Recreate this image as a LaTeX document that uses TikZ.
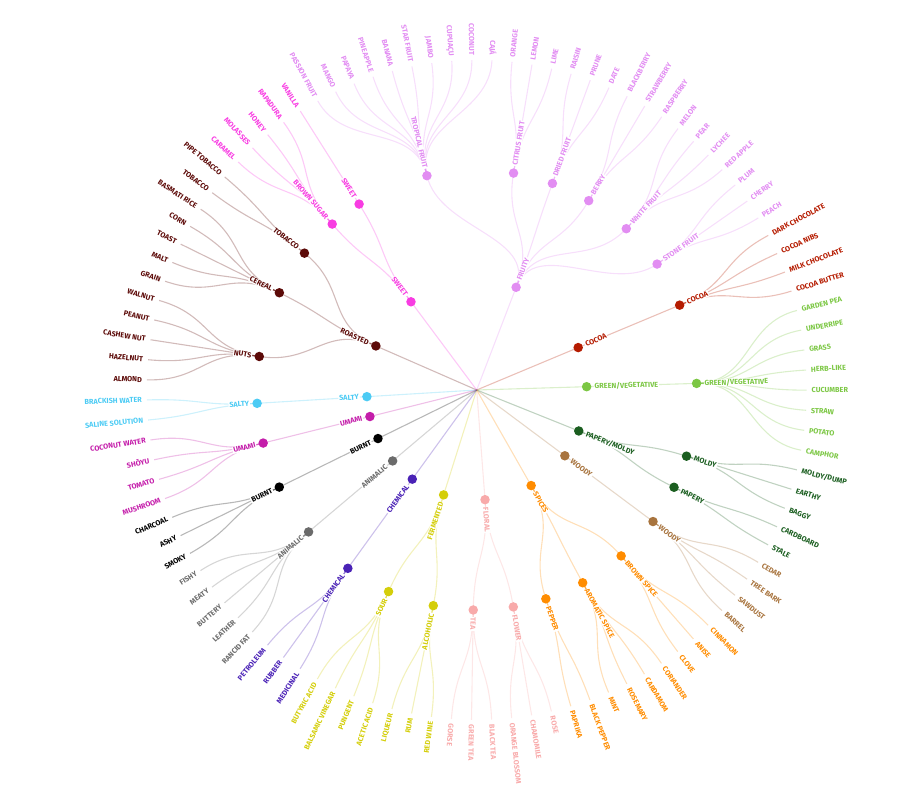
\documentclass[tikz,border=0pt]{standalone}
\usepackage{fontspec}
\setmainfont{Fira Sans}

% ── Palette ──────────────────────────────────────────────────────────────────
\definecolor{fruity}{HTML}{E28DF2}
\definecolor{sweet}{HTML}{F83CE2}
\definecolor{roasted}{HTML}{5C0A08}
\definecolor{salty}{HTML}{4CCBF4}
\definecolor{umami}{HTML}{C41DAA}
\definecolor{burnt}{HTML}{000000}
\definecolor{animalic}{HTML}{6B6B6B}
\definecolor{chemical}{HTML}{4A22B6}
\definecolor{fermented}{HTML}{D4CE0A}
\definecolor{floral}{HTML}{F8AAAA}
\definecolor{spices}{HTML}{FF8C00}
\definecolor{woody}{HTML}{A8743E}
\definecolor{papery}{HTML}{1B5E20}
\definecolor{vegetal}{HTML}{7CC744}
\definecolor{cocoa}{HTML}{B51B00}

\pgfdeclarelayer{links}
\pgfsetlayers{links,main}

% angle of a slot on the wheel (slots = leaf positions)
\newcommand{\wheelang}[1]{118.8-3.495*(#1)}

% labelled dot: name, slot, radius, colour, text
\newcommand{\flavdot}[5]{%
  \pgfmathsetmacro\wa{\wheelang{#2}}%
  \pgfmathsetmacro\wr{#3+7}%
  \pgfmathtruncatemacro\wf{((#2)<9.5)||((#2)>61.5)}%
  \node[dot, fill=#4] (#1) at (\wa:#3) {};
  \ifnum\wf=1
    \node[lbl, tag, text=#4, anchor=east, rotate=\wa+180] (#1-lbl) at (\wa:\wr) {#5};
  \else
    \node[lbl, tag, text=#4, anchor=west, rotate=\wa] (#1-lbl) at (\wa:\wr) {#5};
  \fi
}

% curved link: parent, child, parent slot, child slot, mid radius, colour
\newcommand{\flavlink}[6]{%
  \pgfmathsetmacro\wpa{\wheelang{#3}}%
  \pgfmathsetmacro\wca{\wheelang{#4}}%
  \begin{pgfonlayer}{links}
    \draw[link, draw=#6] (#1.center) .. controls (\wpa:#5) and (\wca:#5) .. (#2.center);
  \end{pgfonlayer}
}

% first ring: name, slot, colour, text
\newcommand{\flavmain}[4]{%
  \flavdot{#1}{#2}{110}{#3}{#4}
  \begin{pgfonlayer}{links}
    \draw[link, draw=#3] (root) -- (#1.center);
  \end{pgfonlayer}
}

% second ring: name, parent, slot, parent slot, colour, text
\newcommand{\flavsub}[6]{%
  \flavdot{#1}{#3}{220}{#5}{#6}
  \flavlink{#2}{#1}{#4}{#3}{165}{#5}
}

% leaves: group node, first slot, parent slot, colour, list
\newcommand{\flavleaves}[5]{%
  \foreach \txt [count=\k from 0] in {#5} {
    \pgfmathsetmacro\ls{#2+\k}
    \pgfmathsetmacro\la{\wheelang{\ls}}
    \pgfmathtruncatemacro\lf{(\ls<9.5)||(\ls>61.5)}
    \coordinate (#1-\k) at (\la:330);
    \ifnum\lf=1
      \node[lbl, text=#4, anchor=east, rotate=\la+180] (#1-\k-lbl) at (\la:334) {\txt};
    \else
      \node[lbl, text=#4, anchor=west, rotate=\la] (#1-\k-lbl) at (\la:334) {\txt};
    \fi
    \flavlink{#1}{#1-\k}{#3}{\ls}{275}{#4}
  }
}

\begin{document}
\begin{tikzpicture}[
  x=1pt, y=1pt,
  dot/.style={circle, inner sep=0pt, minimum size=9.5pt},
  lbl/.style={font=\bfseries\fontsize{7.3}{8}\selectfont,
              inner sep=0.8pt, text height=5pt, text depth=0pt},
  tag/.style={fill=white},
  link/.style={line width=1.1pt, draw opacity=0.28},
]
\useasboundingbox (-476.7,-407) rectangle (429.3,390);

\coordinate (root) at (0,0);

% ── First ring ───────────────────────────────────────────────────────────────
\flavmain{fruity}{14.25}{fruity}{FRUITY}
\flavmain{cocoa1}{27.5}{cocoa}{COCOA}
\flavmain{green1}{33.5}{vegetal}{GREEN/VEGETATIVE}
\flavmain{papmold}{40.25}{papery}{PAPERY/MOLDY}
\flavmain{woody1}{44.5}{woody}{WOODY}
\flavmain{spices}{51.25}{spices}{SPICES}
\flavmain{floral}{58.5}{floral}{FLORAL}
\flavmain{fermented}{64.75}{fermented}{FERMENTED}
\flavmain{chemical1}{70}{chemical}{CHEMICAL}
\flavmain{animalic1}{74}{animalic}{ANIMALIC}
\flavmain{burnt1}{78}{burnt}{BURNT}
\flavmain{umami1}{81.5}{umami}{UMAMI}
\flavmain{salty1}{84.5}{salty}{SALTY}
\flavmain{roasted}{92.25}{roasted}{ROASTED}
\flavmain{sweet1}{100.75}{sweet}{SWEET}

% ── Second ring ──────────────────────────────────────────────────────────────
\flavsub{tropical}{fruity}{4.5}{14.25}{fruity}{TROPICAL FRUIT}
\flavsub{citrus}{fruity}{11}{14.25}{fruity}{CITRUS FRUIT}
\flavsub{dried}{fruity}{14}{14.25}{fruity}{DRIED FRUIT}
\flavsub{berry}{fruity}{17}{14.25}{fruity}{BERRY}
\flavsub{white}{fruity}{20.5}{14.25}{fruity}{WHITE FRUIT}
\flavsub{stone}{fruity}{24}{14.25}{fruity}{STONE FRUIT}
\flavsub{cocoa2}{cocoa1}{27.5}{27.5}{cocoa}{COCOA}
\flavsub{green2}{green1}{33.5}{33.5}{vegetal}{GREEN/VEGETATIVE}
\flavsub{moldy}{papmold}{39}{40.25}{papery}{MOLDY}
\flavsub{papery}{papmold}{41.5}{40.25}{papery}{PAPERY}
\flavsub{woody2}{woody1}{44.5}{44.5}{woody}{WOODY}
\flavsub{brownspice}{spices}{48}{51.25}{spices}{BROWN SPICE}
\flavsub{aromatic}{spices}{51.5}{51.25}{spices}{AROMATIC SPICE}
\flavsub{pepper}{spices}{54.5}{51.25}{spices}{PEPPER}
\flavsub{flower}{floral}{57}{58.5}{floral}{FLOWER}
\flavsub{tea}{floral}{60}{58.5}{floral}{TEA}
\flavsub{alcoholic}{fermented}{63}{64.75}{fermented}{ALCOHOLIC}
\flavsub{sour}{fermented}{66.5}{64.75}{fermented}{SOUR}
\flavsub{chemical2}{chemical1}{70}{70}{chemical}{CHEMICAL}
\flavsub{animalic2}{animalic1}{74}{74}{animalic}{ANIMALIC}
\flavsub{burnt2}{burnt1}{78}{78}{burnt}{BURNT}
\flavsub{umami2}{umami1}{81.5}{81.5}{umami}{UMAMI}
\flavsub{salty2}{salty1}{84.5}{84.5}{salty}{SALTY}
\flavsub{nuts}{roasted}{88}{92.25}{roasted}{NUTS}
\flavsub{cereal}{roasted}{93}{92.25}{roasted}{CEREAL}
\flavsub{tobacco}{roasted}{96.5}{92.25}{roasted}{TOBACCO}
\flavsub{brownsugar}{sweet1}{99.5}{100.75}{sweet}{BROWN SUGAR}
\flavsub{sweet2}{sweet1}{102}{100.75}{sweet}{SWEET}

% ── Leaves ───────────────────────────────────────────────────────────────────
\flavleaves{tropical}{0}{4.5}{fruity}{PASSION FRUIT, MANGO, PAPAYA, PINEAPPLE, BANANA, STAR FRUIT, JAMBO, CUPUAÇU, COCONUT, CAJÁ}
\flavleaves{citrus}{10}{11}{fruity}{ORANGE, LEMON, LIME}
\flavleaves{dried}{13}{14}{fruity}{RAISIN, PRUNE, DATE}
\flavleaves{berry}{16}{17}{fruity}{BLACKBERRY, STRAWBERRY, RASPBERRY}
\flavleaves{white}{19}{20.5}{fruity}{MELON, PEAR, LYCHEE, RED APPLE}
\flavleaves{stone}{23}{24}{fruity}{PLUM, CHERRY, PEACH}
\flavleaves{cocoa2}{26}{27.5}{cocoa}{DARK CHOCOLATE, COCOA NIBS, MILK CHOCOLATE, COCOA BUTTER}
\flavleaves{green2}{30}{33.5}{vegetal}{GARDEN PEA, UNDERRIPE, GRASS, HERB-LIKE, CUCUMBER, STRAW, POTATO, CAMPHOR}
\flavleaves{moldy}{38}{39}{papery}{MOLDY/DUMP, EARTHY, BAGGY}
\flavleaves{papery}{41}{41.5}{papery}{CARDBOARD, STALE}
\flavleaves{woody2}{43}{44.5}{woody}{CEDAR, TREE BARK, SAWDUST, BARREL}
\flavleaves{brownspice}{47}{48}{spices}{CINNAMON, ANISE, CLOVE}
\flavleaves{aromatic}{50}{51.5}{spices}{CORIANDER, CARDAMOM, ROSEMARY, MINT}
\flavleaves{pepper}{54}{54.5}{spices}{BLACK PEPPER, PAPRIKA}
\flavleaves{flower}{56}{57}{floral}{ROSE, CHAMOMILE, ORANGE BLOSSOM}
\flavleaves{tea}{59}{60}{floral}{BLACK TEA, GREEN TEA, GORSE}
\flavleaves{alcoholic}{62}{63}{fermented}{RED WINE, RUM, LIQUEUR}
\flavleaves{sour}{65}{66.5}{fermented}{ACETIC ACID, PUNGENT, BALSAMIC VINEGAR, BUTYRIC ACID}
\flavleaves{chemical2}{69}{70}{chemical}{MEDICINAL, RUBBER, PETROLEUM}
\flavleaves{animalic2}{72}{74}{animalic}{RANCID FAT, LEATHER, BUTTERY, MEATY, FISHY}
\flavleaves{burnt2}{77}{78}{burnt}{SMOKY, ASHY, CHARCOAL}
\flavleaves{umami2}{80}{81.5}{umami}{MUSHROOM, TOMATO, SHŌYU, COCONUT WATER}
\flavleaves{salty2}{84}{84.5}{salty}{SALINE SOLUTION, BRACKISH WATER}
\flavleaves{nuts}{86}{88}{roasted}{ALMOND, HAZELNUT, CASHEW NUT, PEANUT, WALNUT}
\flavleaves{cereal}{91}{93}{roasted}{GRAIN, MALT, TOAST, CORN, BASMATI RICE}
\flavleaves{tobacco}{96}{96.5}{roasted}{TOBACCO, PIPE TOBACCO}
\flavleaves{brownsugar}{98}{99.5}{sweet}{CARAMEL, MOLASSES, HONEY, RAPADURA}
\flavleaves{sweet2}{102}{102}{sweet}{VANILLA}

\end{tikzpicture}
\end{document}
